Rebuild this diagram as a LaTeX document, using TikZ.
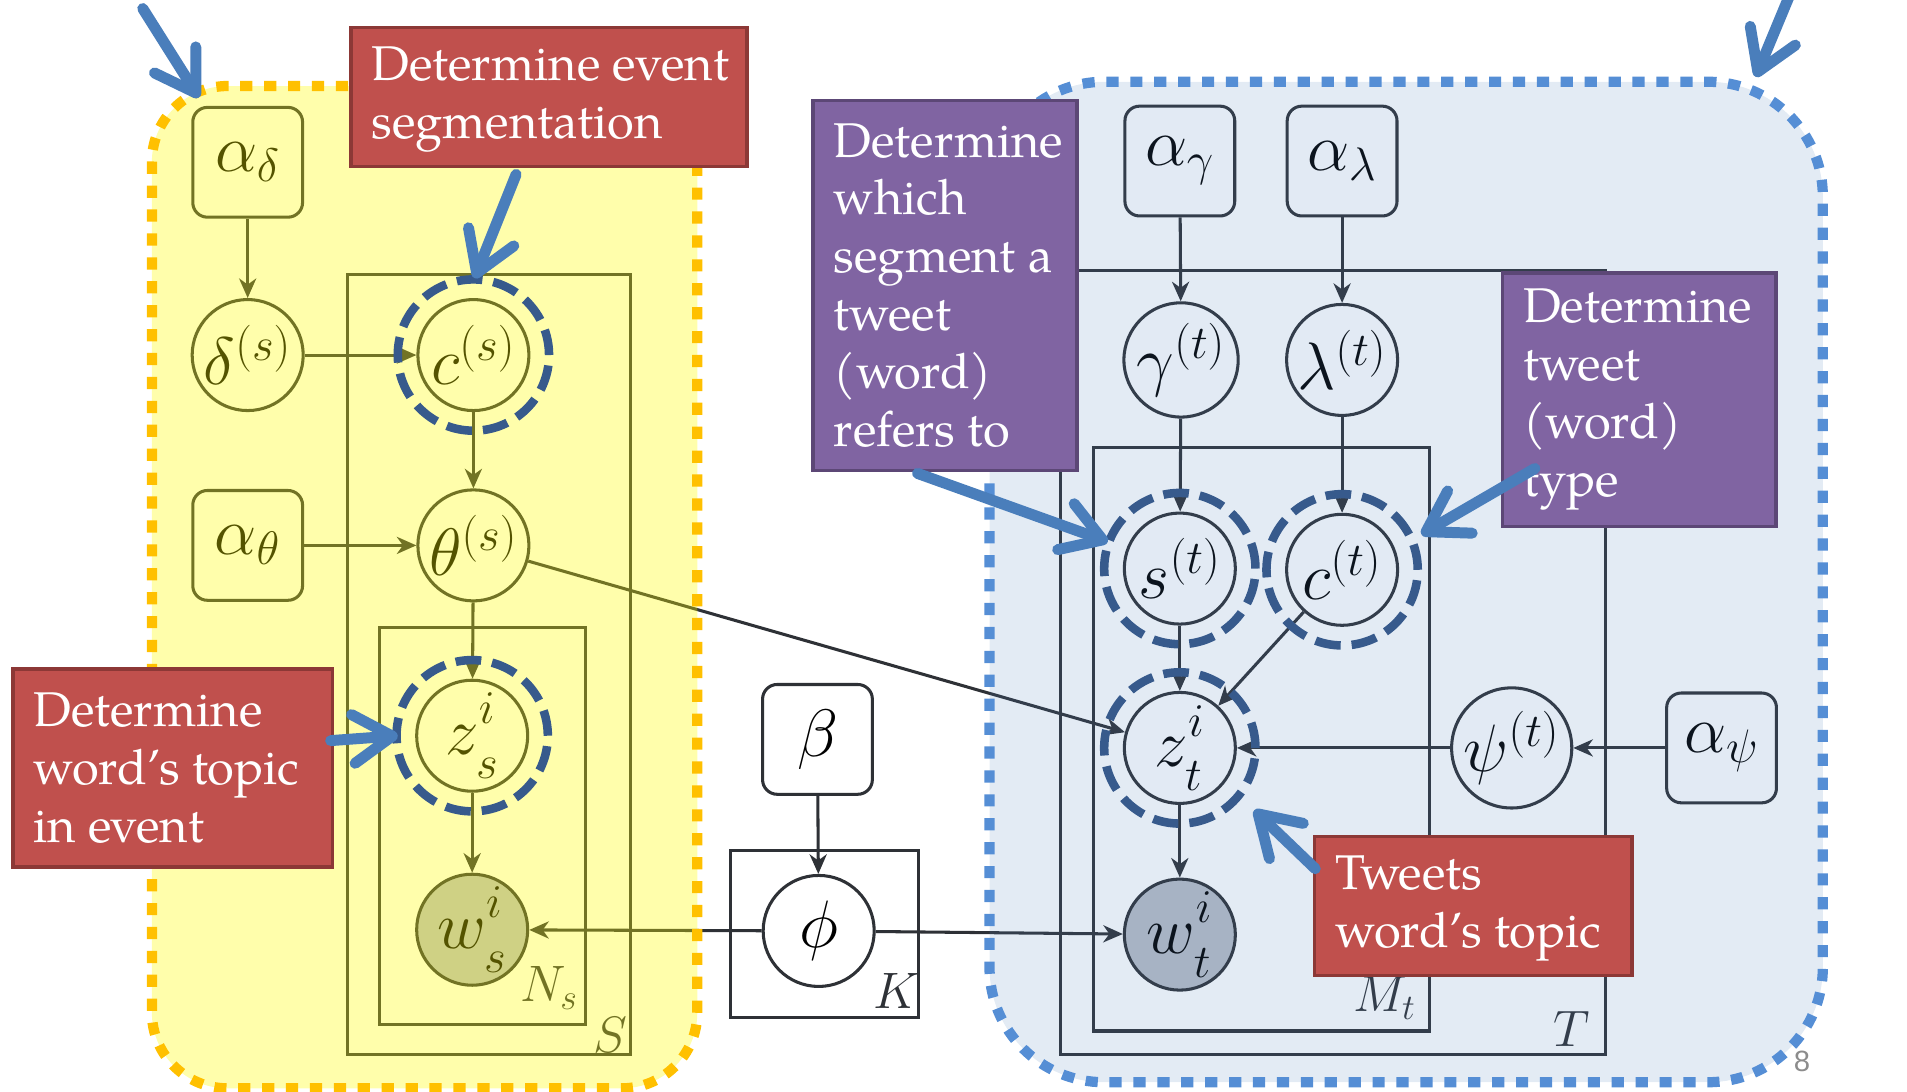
\RequirePackage{fix-cm}
\documentclass[tikz,border=0pt]{standalone}
\usepackage{fontspec}
\setmainfont{TeX Gyre Pagella}
\newfontfamily\pgnumfont{Liberation Sans}
\usetikzlibrary{arrows.meta}
\definecolor{mline}{HTML}{2E3136}
\definecolor{obsfill}{HTML}{B8BDC6}
\definecolor{ringblue}{HTML}{375A8C}
\definecolor{callblue}{HTML}{4A7EBB}
\definecolor{redfill}{HTML}{C0504D}
\definecolor{redline}{HTML}{8C3836}
\definecolor{purfill}{HTML}{8064A2}
\definecolor{purline}{HTML}{5C4776}
\definecolor{orangedot}{HTML}{FFC000}
\definecolor{bluedot}{HTML}{558ED5}
\definecolor{bluetint}{RGB}{79,129,189}
\definecolor{yellowtint}{RGB}{255,252,0}
\newcommand\supsub[3]{#1^{\raisebox{2.5pt}{$\scriptstyle #2$}}_{\raisebox{-3pt}{$\scriptstyle #3$}}}
\tikzset{
 mnode/.style={draw=mline, line width=1.25pt, fill=white, inner sep=0pt, font=\fontsize{27.5}{32}\selectfont},
 latent/.style={mnode, circle, minimum size=45.5pt},
 obs/.style={latent, fill=obsfill},
 hyper/.style={mnode, rectangle, rounded corners=6pt, minimum size=45pt},
 plate/.style={draw=mline, line width=1.25pt},
 platelabel/.style={font=\fontsize{21}{24}\selectfont, text=mline, inner sep=0pt},
 edge/.style={draw=mline, line width=1.25pt, -{Stealth[length=8pt,width=7pt,inset=2.5pt]}},
 ring/.style={draw=ringblue, line width=3.5pt, dash pattern=on 10.5pt off 4.5pt},
 redbox/.style={rectangle, fill=redfill, draw=redline, line width=1.5pt, inner sep=0pt},
 purbox/.style={rectangle, fill=purfill, draw=purline, line width=1.5pt, inner sep=0pt},
 calltext/.style={align=left, text=white, inner sep=0pt, font=\fontsize{20}{23.75}\selectfont},
 callarrow/.style={draw=callblue, line width=4.5pt, line cap=round, -{Straight Barb[length=16pt,width=20pt,round]}},
 regionline/.style={line width=4.2pt, dash pattern=on 5pt off 4.8pt},
}
\begin{document}
\begin{tikzpicture}[x=0.5pt,y=-0.5pt]
\useasboundingbox (0,0) rectangle (1563,895);
% ---------------- plates
\draw[plate] (285,225) rectangle (517,864);
\draw[plate] (311,514) rectangle (480,840);
\draw[plate] (599,697) rectangle (753,834);
\draw[plate] (869,222) rectangle (1316,864);
\draw[plate] (896,367) rectangle (1172,845);
\node[platelabel] (lS) at (500,848) {$S$};
\node[platelabel] (lN) at (450,810) {$N_s$};
\node[platelabel] (lK) at (735,812) {$K$};
\node[platelabel] (lM) at (1135,818) {$M_t$};
\node[platelabel] (lT) at (1288,843) {$T$};
% ---------------- left model
\node[hyper] (ad) at (203,133) {$\alpha_\delta$};
\node[latent] (del) at (203,291) {$\delta^{(s)}$};
\node[latent] (cs) at (388,291) {$c^{(s)}$};
\node[hyper] (at) at (203,447) {$\alpha_\theta$};
\node[latent] (ths) at (388,447) {$\theta^{(s)}$};
\node[latent] (zs) at (387,603) {$\supsub{z}{i}{s}$};
\node[obs] (ws) at (387,762) {$\supsub{w}{i}{s}$};
% ---------------- middle
\node[hyper] (beta) at (670,606) {$\beta$};
\node[latent] (phi) at (671,763) {$\phi$};
% ---------------- right model
\node[hyper] (ag) at (967,132) {$\alpha_\gamma$};
\node[hyper] (al) at (1100,132) {$\alpha_\lambda$};
\node[latent] (gam) at (968,295) {$\gamma^{(t)}$};
\node[latent] (lam) at (1100,295) {$\lambda^{(t)}$};
\node[latent] (st) at (967,466) {$s^{(t)}$};
\node[latent] (ct) at (1100,467) {$c^{(t)}$};
\node[latent] (zt) at (967,613) {$\supsub{z}{i}{t}$};
\node[obs] (wt) at (967,766) {$\supsub{w}{i}{t}$};
\node[latent] (psi) at (1239,613) {$\psi^{(t)}$};
\node[hyper] (aps) at (1411,613) {$\alpha_\psi$};
% ---------------- edges
\draw[edge] (ad) -- (del);
\draw[edge] (del) -- (cs);
\draw[edge] (cs) -- (ths);
\draw[edge] (at) -- (ths);
\draw[edge] (ths) -- (zs);
\draw[edge] (zs) -- (ws);
\draw[edge] (beta) -- (phi);
\draw[edge] (phi) -- (ws);
\draw[edge] (phi) -- (wt);
\draw[edge] (ths) -- (zt);
\draw[edge] (ag) -- (gam);
\draw[edge] (al) -- (lam);
\draw[edge] (gam) -- (st);
\draw[edge] (lam) -- (ct);
\draw[edge] (st) -- (zt);
\draw[edge] (ct) -- (zt);
\draw[edge] (psi) -- (zt);
\draw[edge] (aps) -- (psi);
\draw[edge] (zt) -- (wt);
% ---------------- overlays
\fill[yellowtint, fill opacity=0.33, rounded corners=31pt] (124.5,70.5) rectangle (571.5,892);
\fill[bluetint, fill opacity=0.16, rounded corners=47pt] (811,67) rectangle (1494,887);
\draw[orangedot, regionline, rounded corners=31pt] (124.5,70.5) rectangle (571.5,892);
\draw[bluedot, regionline, rounded corners=47pt] (811,67) rectangle (1494,887);
% ---------------- rings
\draw[ring] (cs.center) circle[radius=31pt];
\draw[ring] (zs.center) circle[radius=31pt];
\draw[ring] (st.center) circle[radius=31pt];
\draw[ring] (ct.center) circle[radius=31pt];
\draw[ring] (zt.center) circle[radius=31pt];
% ---------------- callouts
\node[redbox, minimum width=162.5pt, minimum height=57pt, anchor=north west] (rb1) at (286,21) {};
\node[calltext, anchor=west] (rt1) at ([xshift=9pt,yshift=-1pt]rb1.west) {Determine event\\segmentation};
\node[redbox, minimum width=131pt, minimum height=81pt, anchor=north west] (rb2) at (9,547) {};
\node[calltext, anchor=west] (rt2) at ([xshift=9pt]rb2.west) {Determine\\word's topic\\in event};
\node[redbox, minimum width=130pt, minimum height=57pt, anchor=north west] (rb3) at (1076,684) {};
\node[calltext, anchor=west] (rt3) at ([xshift=9pt,yshift=-1pt]rb3.west) {Tweets\\word's topic};
\node[purbox, minimum width=108pt, minimum height=151.5pt, anchor=north west] (pb1) at (665,81) {};
\node[calltext, anchor=west] (pt1) at ([xshift=9pt]pb1.west) {Determine\\which\\segment a\\tweet\\(word)\\refers to};
\node[purbox, minimum width=112pt, minimum height=104pt, anchor=north west] (pb2) at (1230,222) {};
\node[calltext, anchor=west] (pt2) at ([xshift=9pt]pb2.west) {Determine\\tweet\\(word)\\type};
% ---------------- callout arrows
\coordinate (tl0) at (117,7);    \coordinate (tl1) at (163,80);
\coordinate (tr0) at (1466,-2);  \coordinate (tr1) at (1439,63);
\coordinate (e0) at (423,143);   \coordinate (e1) at (389,228);
\coordinate (w0) at (271,607);   \coordinate (w1) at (326,603);
\coordinate (p0) at (752,388);   \coordinate (p1) at (908,444);
\coordinate (q0) at (1258,384);  \coordinate (q1) at (1165,438);
\coordinate (t0) at (1078,712);  \coordinate (t1) at (1028,664);
\draw[callarrow] (tl0) -- (tl1);
\draw[callarrow] (tr0) -- (tr1);
\draw[callarrow] (e0) -- (e1);
\draw[callarrow] (w0) -- (w1);
\draw[callarrow] (p0) -- (p1);
\draw[callarrow] (q0) -- (q1);
\draw[callarrow] (t0) -- (t1);
% ---------------- page number
\node[text=black!45, font=\pgnumfont\fontsize{12}{14}\selectfont, inner sep=0pt] (pg) at (1477,870) {8};
\end{tikzpicture}
\end{document}
